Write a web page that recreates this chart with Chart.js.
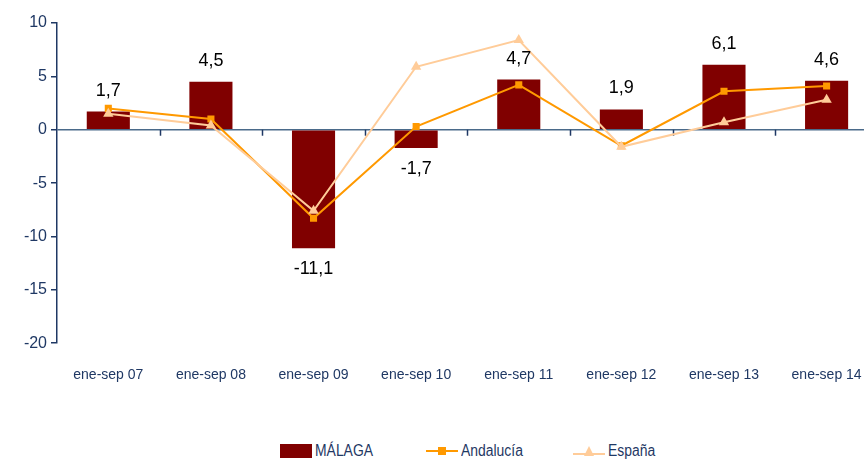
<!DOCTYPE html>
<html>
<head>
<meta charset="utf-8">
<script src="https://cdn.jsdelivr.net/npm/chart.js@4.4.1/dist/chart.umd.min.js"></script>
<style>
  html, body { margin: 0; padding: 0; background: #fff; overflow: hidden; width: 864px; height: 462px; }
  #wrap { position: absolute; left: 0; top: 0; width: 886px; height: 425px; }
  #legend { position: absolute; left: 0; top: 439px; width: 864px; height: 24px; font-family: "Liberation Sans", Arial, sans-serif; font-size: 16px; color: #1F3864; }
  .item { position: absolute; top: 0; display: flex; align-items: center; height: 24px; }
  .item svg { margin-right: 3px; }
  .item span { display: inline-block; transform: scaleX(0.87); transform-origin: left center; }
</style>
</head>
<body>
<div id="wrap"><canvas id="c" width="886" height="425"></canvas></div>
<div id="legend">
  <div class="item" style="left:280px"><svg width="32" height="14"><rect x="0" y="0" width="32" height="14" fill="#800000"/></svg><span>MÁLAGA</span></div>
  <div class="item" style="left:426px"><svg width="32" height="14"><line x1="0" y1="7" x2="32" y2="7" stroke="#FF9900" stroke-width="2"/><rect x="12" y="3" width="8" height="8" fill="#FF9900"/></svg><span>Andalucía</span></div>
  <div class="item" style="left:573px"><svg width="32" height="14"><line x1="0" y1="10" x2="32" y2="10" stroke="#FFCC99" stroke-width="2"/><polygon points="16,2 21,12 11,12" fill="#FFCC99"/></svg><span>España</span></div>
</div>
<script>
const categorias = ['ene-sep 07', 'ene-sep 08', 'ene-sep 09', 'ene-sep 10', 'ene-sep 11', 'ene-sep 12', 'ene-sep 13', 'ene-sep 14'];
const malaga = [1.7, 4.5, -11.1, -1.7, 4.7, 1.9, 6.1, 4.6];
const andalucia = [2.0, 1.0, -8.3, 0.3, 4.2, -1.5, 3.6, 4.1];
const espana = [1.5, 0.4, -7.6, 5.9, 8.4, -1.6, 0.7, 2.8];
const yTicks = [10, 5, 0, -5, -10, -15, -20];

const FONT = '"Liberation Sans", Arial, sans-serif';
const AXIS_BLUE = '#1F3864';

// etiquetas de valor sobre/bajo las barras de Málaga
const barLabels = {
  id: 'barLabels',
  afterDatasetsDraw(chart) {
    const meta = chart.getDatasetMeta(2);
    const ctx = chart.ctx;
    ctx.save();
    ctx.font = '18px ' + FONT;
    ctx.fillStyle = '#000';
    ctx.textAlign = 'center';
    meta.data.forEach((bar, i) => {
      const v = malaga[i];
      const txt = String(v).replace('.', ',');
      if (v >= 0) { ctx.textBaseline = 'bottom'; ctx.fillText(txt, bar.x, bar.y - 12); }
      else { ctx.textBaseline = 'top'; ctx.fillText(txt, bar.x, bar.y + 12); }
    });
    ctx.restore();
  }
};

// marcas de separación de categorías sobre el eje en cero
const zeroTicks = {
  id: 'zeroTicks',
  beforeDatasetsDraw(chart) {
    const x = chart.scales.x, y = chart.scales.y;
    const y0 = y.getPixelForValue(0);
    const half = (x.getPixelForTick(1) - x.getPixelForTick(0)) / 2;
    const ctx = chart.ctx;
    ctx.save();
    ctx.strokeStyle = AXIS_BLUE;
    ctx.lineWidth = 1.5;
    for (let i = 1; i < categorias.length; i++) {
      const px = Math.round(x.getPixelForTick(i) - half) + 0.5;
      ctx.beginPath(); ctx.moveTo(px, y0); ctx.lineTo(px, y0 + 6); ctx.stroke();
    }
    ctx.restore();
  }
};

new Chart(document.getElementById('c'), {
  type: 'bar',
  data: {
    labels: categorias,
    datasets: [
      { type: 'line', label: 'España', data: espana, borderColor: '#FFCC99', backgroundColor: '#FFCC99', borderWidth: 2, pointStyle: 'triangle', pointRadius: 6, pointBorderWidth: 0, tension: 0, order: 0 },
      { type: 'line', label: 'Andalucía', data: andalucia, borderColor: '#FF9900', backgroundColor: '#FF9900', borderWidth: 2, pointStyle: 'rect', pointRadius: 5, pointBorderWidth: 0, tension: 0, order: 1 },
      { type: 'bar', label: 'MÁLAGA', data: malaga, backgroundColor: '#800000', barPercentage: 0.42, categoryPercentage: 1, order: 2 }
    ]
  },
  options: {
    responsive: false,
    animation: false,
    layout: { padding: { top: 23, right: 3, bottom: 17, left: 0 } },
    plugins: { legend: { display: false }, tooltip: { enabled: false } },
    scales: {
      x: {
        grid: { display: false, drawTicks: false },
        border: { display: false },
        ticks: { padding: 24, color: AXIS_BLUE, font: { family: FONT, size: 14 } }
      },
      y: {
        min: -20, max: 10,
        afterBuildTicks(scale) { scale.ticks = yTicks.map(v => ({ value: v })); },
        afterFit(scale) { scale.width = 57; },
        grid: {
          color: c => (c.tick && c.tick.value === 0) ? '#4A6A8A' : 'rgba(0,0,0,0)',
          lineWidth: 1.5,
          tickColor: AXIS_BLUE,
          tickLength: 6,
          drawTicks: true
        },
        border: { color: AXIS_BLUE, width: 1.5 },
        ticks: { padding: 4, color: AXIS_BLUE, font: { family: FONT, size: 16 } }
      }
    }
  },
  plugins: [zeroTicks, barLabels]
});
</script>
</body>
</html>
